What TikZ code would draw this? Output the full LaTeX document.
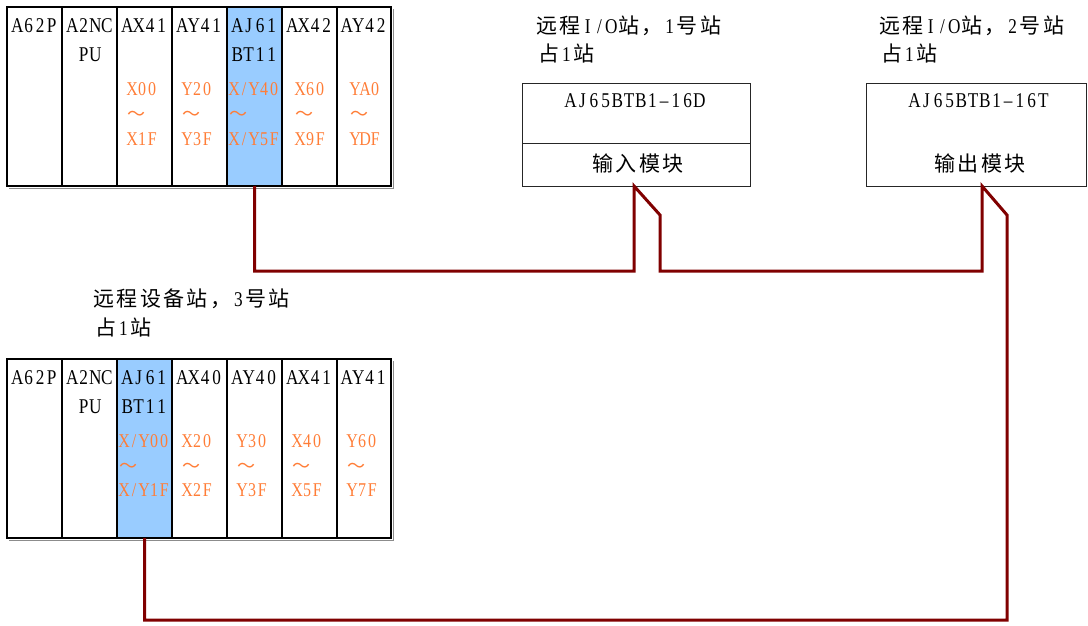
\documentclass[tikz,border=0pt]{standalone}
\usepackage{fontspec}
\usepackage{graphicx}
\setmainfont{Liberation Serif}
\newfontfamily\cjk{Noto Sans CJK SC}
\definecolor{wire}{RGB}{128,0,0}
\definecolor{addr}{RGB}{255,125,55}
\definecolor{btblue}{RGB}{153,204,255}
% fixed-pitch Latin text (mimics half-width glyphs)
\newlength\pitchlen
\def\monoend{MONOEND}
\newcommand\mono[2]{\setlength\pitchlen{#1}\monoi#2\monoend}
\def\monoi#1{\ifx#1\monoend\else\makebox[\pitchlen]{\scalebox{0.82}[1]{#1}}\expandafter\monoi\fi}
\newcommand\fwc[1]{\makebox[23.4pt]{\cjk\fontsize{21}{21}\selectfont #1}}
\newcommand\hwc[1]{\makebox[11.7pt]{\fontsize{21}{21}\selectfont\scalebox{0.82}[1]{#1}}}
\tikzset{
  col/.style={draw=black,line width=1.3pt,minimum width=55pt,minimum height=179pt,inner sep=0pt,outer sep=0pt},
  bcol/.style={col,fill=btblue},
  modtxt/.style={anchor=base,inner sep=0pt,font=\fontsize{21}{21}\selectfont},
  addrtxt/.style={anchor=base west,inner sep=0pt,text=addr,font=\fontsize{19.5}{19.5}\selectfont},
  tld/.style={anchor=base west,inner sep=0pt,text=addr,font=\cjk\fontsize{18}{18}\selectfont},
  cntxt/.style={anchor=base west,inner sep=0pt},
  cnmid/.style={anchor=base,inner sep=0pt},
  iobox/.style={draw=black!85,line width=0.8pt,inner sep=0pt,outer sep=0pt},
  wirest/.style={draw=wire,line width=3pt,line join=miter},
  shadowst/.style={draw=black!45,line width=1.5pt}
}
\begin{document}
\begin{tikzpicture}[x=1pt,y=-1pt]
\useasboundingbox (0,0) rectangle (1088,625);
% ---------- top rack ----------
\draw[shadowst] (9,188.5) -- (393.5,188.5) -- (393.5,9);
\node[col]  (t1) at (34.5,96.5) {};
\node[col]  (t2) at (89.5,96.5) {};
\node[col]  (t3) at (144.5,96.5) {};
\node[col]  (t4) at (199.5,96.5) {};
\node[bcol] (t5) at (254.5,96.5) {};
\node[col]  (t6) at (309.5,96.5) {};
\node[col]  (t7) at (364,96.5) [minimum width=54pt] {};
\node[modtxt] (tl1) at (34.5,32) {\mono{11.5pt}{A62P}};
\node[modtxt] (tl2) at (89.5,32) {\mono{11.5pt}{A2NC}};
\node[modtxt] (tl2b) at (89.5,61) {\mono{11.5pt}{PU}};
\node[modtxt] (tl3) at (144.5,32) {\mono{11.5pt}{AX41}};
\node[modtxt] (tl4) at (199.5,32) {\mono{11.5pt}{AY41}};
\node[modtxt] (tl5) at (254.5,32) {\mono{11.5pt}{AJ61}};
\node[modtxt] (tl5b) at (254.5,61) {\mono{11.5pt}{BT11}};
\node[modtxt] (tl6) at (309.5,32) {\mono{11.5pt}{AX42}};
\node[modtxt] (tl7) at (364,32) {\mono{11.5pt}{AY42}};
\node[addrtxt] (ta3) at (127,95) {\mono{10pt}{X00}};
\node[tld] (tt3) at (127,120) {～};
\node[addrtxt] (tb3) at (127,145) {\mono{10pt}{X1F}};
\node[addrtxt] (ta4) at (182,95) {\mono{10pt}{Y20}};
\node[tld] (tt4) at (182,120) {～};
\node[addrtxt] (tb4) at (182,145) {\mono{10pt}{Y3F}};
\node[addrtxt] (ta5) at (229,95) {\mono{10pt}{X/Y40}};
\node[tld] (tt5) at (229,120) {～};
\node[addrtxt] (tb5) at (229,145) {\mono{10pt}{X/Y5F}};
\node[addrtxt] (ta6) at (295,95) {\mono{10pt}{X60}};
\node[tld] (tt6) at (295,120) {～};
\node[addrtxt] (tb6) at (295,145) {\mono{10pt}{X9F}};
\node[addrtxt] (ta7) at (350,95) {\mono{10pt}{YA0}};
\node[tld] (tt7) at (350,120) {～};
\node[addrtxt] (tb7) at (350,145) {\mono{10pt}{YDF}};
% ---------- bottom rack ----------
\draw[shadowst] (9,540.5) -- (393.5,540.5) -- (393.5,361);
\node[col]  (b1) at (34.5,448.5) {};
\node[col]  (b2) at (89.5,448.5) {};
\node[bcol] (b3) at (144.5,448.5) {};
\node[col]  (b4) at (199.5,448.5) {};
\node[col]  (b5) at (254.5,448.5) {};
\node[col]  (b6) at (309.5,448.5) {};
\node[col]  (b7) at (364,448.5) [minimum width=54pt] {};
\node[modtxt] (bl1) at (34.5,384) {\mono{11.5pt}{A62P}};
\node[modtxt] (bl2) at (89.5,384) {\mono{11.5pt}{A2NC}};
\node[modtxt] (bl2b) at (89.5,413) {\mono{11.5pt}{PU}};
\node[modtxt] (bl3) at (144.5,384) {\mono{11.5pt}{AJ61}};
\node[modtxt] (bl3b) at (144.5,413) {\mono{11.5pt}{BT11}};
\node[modtxt] (bl4) at (199.5,384) {\mono{11.5pt}{AX40}};
\node[modtxt] (bl5) at (254.5,384) {\mono{11.5pt}{AY40}};
\node[modtxt] (bl6) at (309.5,384) {\mono{11.5pt}{AX41}};
\node[modtxt] (bl7) at (364,384) {\mono{11.5pt}{AY41}};
\node[addrtxt] (ba3) at (119,447) {\mono{10pt}{X/Y00}};
\node[tld] (bt3) at (119,472) {～};
\node[addrtxt] (bb3) at (119,496) {\mono{10pt}{X/Y1F}};
\node[addrtxt] (ba4) at (182,447) {\mono{10pt}{X20}};
\node[tld] (bt4) at (182,472) {～};
\node[addrtxt] (bb4) at (182,496) {\mono{10pt}{X2F}};
\node[addrtxt] (ba5) at (237,447) {\mono{10pt}{Y30}};
\node[tld] (bt5) at (237,472) {～};
\node[addrtxt] (bb5) at (237,496) {\mono{10pt}{Y3F}};
\node[addrtxt] (ba6) at (292,447) {\mono{10pt}{X40}};
\node[tld] (bt6) at (292,472) {～};
\node[addrtxt] (bb6) at (292,496) {\mono{10pt}{X5F}};
\node[addrtxt] (ba7) at (347,447) {\mono{10pt}{Y60}};
\node[tld] (bt7) at (347,472) {～};
\node[addrtxt] (bb7) at (347,496) {\mono{10pt}{Y7F}};
% ---------- station captions ----------
\node[cntxt] (s1a) at (535,33) {\fwc{远}\fwc{程}\hwc{I}\hwc{/}\hwc{O}\fwc{站}\fwc{，}\hwc{1}\fwc{号}\fwc{站}};
\node[cntxt] (s1b) at (537,61) {\fwc{占}\hwc{1}\fwc{站}};
\node[cntxt] (s2a) at (878,33) {\fwc{远}\fwc{程}\hwc{I}\hwc{/}\hwc{O}\fwc{站}\fwc{，}\hwc{2}\fwc{号}\fwc{站}};
\node[cntxt] (s2b) at (880,61) {\fwc{占}\hwc{1}\fwc{站}};
\node[cntxt] (s3a) at (92,306) {\fwc{远}\fwc{程}\fwc{设}\fwc{备}\fwc{站}\fwc{，}\hwc{3}\fwc{号}\fwc{站}};
\node[cntxt] (s3b) at (94,335) {\fwc{占}\hwc{1}\fwc{站}};
% ---------- remote I/O boxes ----------
\node[iobox,minimum width=228pt,minimum height=103pt] (io1) at (636,134.5) {};
\draw[iobox] (io1.west |- 0,143) -- (io1.east |- 0,143);
\node[modtxt] (io1t) at (635,107) {\mono{11.7pt}{AJ65BTB1–16D}};
\node[cnmid] (io1m) at (638,171) {\fwc{输}\fwc{入}\fwc{模}\fwc{块}};
\node[iobox,minimum width=220pt,minimum height=103pt] (io2) at (976,134.5) {};
\node[modtxt] (io2t) at (979,107) {\mono{11.7pt}{AJ65BTB1–16T}};
\node[cnmid] (io2m) at (980,171) {\fwc{输}\fwc{出}\fwc{模}\fwc{块}};
% ---------- bus wire ----------
\coordinate (p1) at (634,186);
\coordinate (w1) at (634,271);
\coordinate (p1d) at (660,215);
\coordinate (w2) at (982,271);
\coordinate (p2) at (982,186);
\coordinate (p2d) at (1007,215);
\coordinate (w3) at (144.5,620);
\draw[wirest] (t5.south) |- (w1) -- (p1) -- (p1d) |- (w2) -- (p2) -- (p2d) |- (w3) -- (b3.south);
\end{tikzpicture}
\end{document}
